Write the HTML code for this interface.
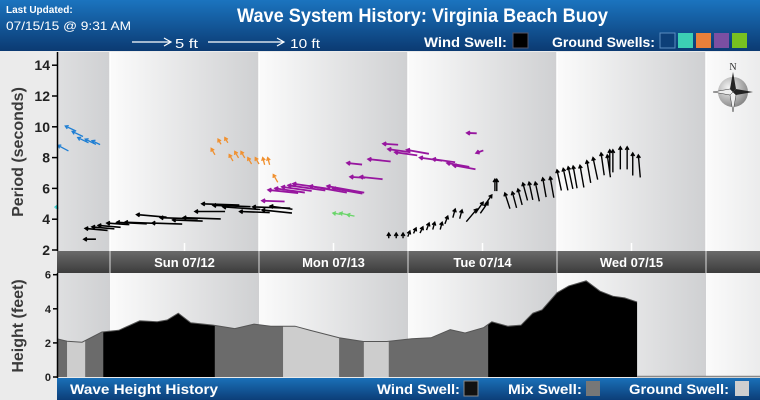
<!DOCTYPE html>
<html><head><meta charset="utf-8">
<style>
html,body{margin:0;padding:0;background:#fff;}
svg{display:block;font-family:"Liberation Sans",sans-serif;}
</style></head>
<body>
<svg id="chart" width="760" height="400" viewBox="0 0 760 400" xmlns="http://www.w3.org/2000/svg">
<defs>
<linearGradient id="hdr" x1="0" y1="0" x2="0" y2="1"><stop offset="0" stop-color="#1b74bf"/><stop offset="1" stop-color="#0b3a72"/></linearGradient>
<linearGradient id="ftr" x1="0" y1="0" x2="0" y2="1"><stop offset="0" stop-color="#1a70b8"/><stop offset="1" stop-color="#0c3e78"/></linearGradient>
<linearGradient id="datebar" x1="0" y1="0" x2="0" y2="1"><stop offset="0" stop-color="#6a6a6a"/><stop offset="1" stop-color="#3c3c3c"/></linearGradient>
<radialGradient id="cmp" cx="0.35" cy="0.35" r="0.8"><stop offset="0" stop-color="#f4f4f4"/><stop offset="1" stop-color="#777"/></radialGradient>
</defs>
<rect x="0" y="0" width="760" height="400" fill="#ebebeb"/>
<g id="header">
<rect x="0" y="0" width="760" height="51" fill="url(#hdr)"/>
<text x="6" y="13" fill="#fff" font-size="10" font-weight="bold">Last Updated:</text>
<text x="6" y="30" fill="#fff" font-size="12" textLength="125" lengthAdjust="spacingAndGlyphs">07/15/15 @  9:31 AM</text>
<text x="237" y="22" fill="#fff" font-size="19" font-weight="bold" textLength="371" lengthAdjust="spacingAndGlyphs">Wave System History: Virginia Beach Buoy</text>
<g><line x1="132" y1="42" x2="170" y2="42" stroke="#fff" stroke-width="1.2"/><polyline points="164,38 171,42 164,46" fill="none" stroke="#fff" stroke-width="1.2"/><text x="175" y="48" fill="#fff" font-size="13" textLength="23" lengthAdjust="spacingAndGlyphs">5 ft</text></g>
<g><line x1="208" y1="42" x2="283" y2="42" stroke="#fff" stroke-width="1.2"/><polyline points="277,38 284,42 277,46" fill="none" stroke="#fff" stroke-width="1.2"/><text x="290" y="48" fill="#fff" font-size="13" textLength="30" lengthAdjust="spacingAndGlyphs">10 ft</text></g>
<text x="424" y="47" fill="#fff" font-size="14" font-weight="bold" textLength="83" lengthAdjust="spacingAndGlyphs">Wind Swell:</text>
<rect x="513" y="33" width="15" height="15" fill="#000" stroke="#556"/>
<text x="552" y="47" fill="#fff" font-size="14" font-weight="bold" textLength="103" lengthAdjust="spacingAndGlyphs">Ground Swells:</text>
<rect x="660" y="33" width="15" height="15" fill="#0d3f78" stroke="#5a8cc0"/>
<rect x="678" y="33" width="15" height="15" fill="#3ccfb4"/>
<rect x="696" y="33" width="15" height="15" fill="#e9803a"/>
<rect x="714" y="33" width="15" height="15" fill="#7b4fa2"/>
<rect x="732" y="33" width="15" height="15" fill="#78c020"/>
</g>
<g id="bands"></g>
<g id="heightArea"></g>
<g id="arrows"></g>
<rect x="57" y="251" width="703" height="22" fill="url(#datebar)"/>
<g id="dates"></g>
<g>
<text x="733" y="70" font-family="Liberation Serif,serif" font-size="10" text-anchor="middle" fill="#333">N</text>
<circle cx="733" cy="92" r="15" fill="url(#cmp)"/>
<polygon points="733,72 736,89 733,92 730,89" fill="#222"/><polygon points="733,112 736,95 733,92 730,95" fill="#eee" stroke="#333" stroke-width="0.5"/>
<polygon points="713,92 730,89 733,92 730,95" fill="#eee" stroke="#333" stroke-width="0.5"/><polygon points="753,92 736,95 733,92 736,89" fill="#222"/>
</g>
<g id="axes"></g>
<rect x="57" y="378" width="703" height="22" fill="url(#ftr)"/>
<text x="70" y="394" fill="#fff" font-size="14" font-weight="bold" textLength="148" lengthAdjust="spacingAndGlyphs">Wave Height History</text>
<text x="377" y="394" fill="#fff" font-size="14" font-weight="bold" textLength="83" lengthAdjust="spacingAndGlyphs">Wind Swell:</text>
<rect x="464" y="381" width="14" height="15" fill="#111" stroke="#888"/>
<text x="508" y="394" fill="#fff" font-size="14" font-weight="bold" textLength="74" lengthAdjust="spacingAndGlyphs">Mix Swell:</text>
<rect x="586" y="381" width="14" height="15" fill="#777"/>
<text x="629" y="394" fill="#fff" font-size="14" font-weight="bold" textLength="100" lengthAdjust="spacingAndGlyphs">Ground Swell:</text>
<rect x="735" y="381" width="14" height="15" fill="#cfcfcf"/>
</svg>
<script>
// ---- data (hours from Sun 07/12 00:00) ----
const dayLabels = ["Sun 07/12","Mon 07/13","Tue 07/14","Wed 07/15"];
const periodTicks = [2,4,6,8,10,12,14];
const heightTicks = [0,2,4,6];

const heightTimes = [-8.5,-6.9,-4.5,-1.3,1.4,4.8,7.6,9.2,11.0,13.0,16.6,20.1,23.2,25.9,29.8,32.2,36.9,40.8,44.6,48.6,51.7,54.8,57.2,60.2,61.5,64.1,66.2,68.1,69.6,72.0,73.9,76.7,78.9,81.0,82.9,84.9];
const heightValues = [2.24,2.1,2.04,2.64,2.74,3.3,3.24,3.34,3.74,3.18,3.04,2.84,3.1,2.98,2.98,2.74,2.3,2.08,2.08,2.24,2.3,2.78,2.58,2.9,3.24,2.98,3.04,3.74,3.94,4.94,5.34,5.64,5.04,4.74,4.64,4.4];
const segStarts = [-8.5,-6.9,-4.0,-1.1,16.9,27.9,36.9,40.9,44.9,60.9];
const segEnds   = [-6.9,-4.0,-1.1,16.9,27.9,36.9,40.9,44.9,60.9,84.9];
const segTypes  = ["mix","ground","mix","wind","mix","ground","mix","ground","mix","wind"];

const windSunTimes = [-4.2,-4.0,-2.9,-1.9,-0.5,1.1,2.4,4.3,6.8,8.1,10.1,11.8,13.7,14.8,16.6,18.2,20.9,23.0,24.5,25.8];
const windSunPeriods = [2.7,3.4,3.5,3.6,3.75,3.8,3.8,4.3,3.75,4.1,3.95,4.1,4.5,5.0,4.9,4.8,4.5,4.8,4.6,4.85];
const windSunHeights = [1.6,3,3,3,3,4,4,4,4,5,4,5,4,5,5,5,4,5,4,3];
const windSunDirs = [270,275,275,275,274,273,272,275,272,272,272,272,270,272,272,274,272,272,276,278];

const windTueTimes = [44.9,46.1,47.2,48.3,49.3,50.4,51.4,52.3,53.5,54.4,55.6,56.7,59.1,60.1,60.9,61.5,62.0,62.3,63.6,64.8,65.7,66.5,67.5,68.5,69.7,70.9,72.0,73.0,73.8,74.6,75.7,76.8,77.8,79.1,80.1,80.5,81.0,82.2,83.3,84.2,85.1];
const windTuePeriods = [3.1,3.1,3.1,3.23,3.43,3.5,3.75,3.8,3.8,4.2,4.66,4.6,4.66,5.1,5.1,5.57,6.6,6.6,5.7,5.77,5.96,6.35,6.4,6.4,6.68,6.74,7.2,7.3,7.4,7.45,7.5,7.8,8.0,8.3,8.17,8.5,8.5,8.7,8.7,8.3,8.17];
const windTueHeights = [0.7,0.7,0.7,0.8,0.8,0.9,1,1,1,1.1,1.2,1.2,2.2,1.8,1.8,1.8,1.6,1.6,2.2,2.2,2.2,2.4,2.4,2.6,2.6,2.8,2.8,3,3,3,3,3,3,3,3,3,3,3,3,3,3];
const windTueDirs = [0,0,0,20,25,25,20,15,15,20,15,15,40,35,35,35,0,0,-18,-15,-15,-15,-12,-12,-10,-10,-12,-12,-12,-10,-10,-10,-12,-8,-8,0,0,0,0,0,-5];

const purpleTimes = [24.5,25.5,26.6,27.7,28.7,29.5,32.2,35.0,35.9,38.2,38.7,40.3,41.6,44.0,44.8,45.9,47.8,49.9,52.0,54.3,55.3,57.5,59.0];
const purplePeriods = [5.2,5.9,6.0,6.1,6.2,6.3,6.15,6.15,6.0,7.65,6.75,6.75,7.9,8.9,8.55,8.35,8.5,8.0,7.9,7.65,7.5,9.6,8.3];
const purpleHeights = [3,4,4,4,5,5,5,5,4,2,2,3,3,2,3,3,3,3,3,3,3,1.3,1];
const purpleDirs = [272,276,278,278,278,278,280,280,280,276,274,276,276,274,278,278,280,278,278,280,280,272,250];

const orangeTimes = [16.3,17.4,18.5,19.2,20.1,21.1,22.2,23.4,24.6,25.4,26.3];
const orangePeriods = [8.6,9.2,9.3,8.2,8.4,8.4,8.0,8.0,8.0,8.0,6.9];
const orangeHeights = [1,0.8,0.8,1,1,1,1,1,1,1,1.2];
const orangeDirs = [330,330,330,330,330,330,330,330,345,345,330];

const blueTimes = [-8.4,-7.2,-6.1,-5.2,-4.0,-2.9];
const bluePeriods = [8.8,10.05,9.7,9.3,9.2,9.1];
const blueHeights = [1.6,1.6,1.6,1.6,1.6,1.2];
const blueDirs = [298,295,295,296,296,296];

const tealTimes = [-8.5];
const tealPeriods = [4.9];
const tealHeights = [0.5];
const tealDirs = [20];

const greenTimes = [35.9,37.0,38.2];
const greenPeriods = [4.4,4.4,4.3];
const greenHeights = [1,1,1];
const greenDirs = [280,282,282];

// ---- scales ----
const NS = "http://www.w3.org/2000/svg";
const DAY0 = 110, DAYW = 149;
function xOf(t){ return DAY0 + t * DAYW / 24; }
function yP(p){ return 250 - (p - 2) * 15.4; }
function yH(h){ return 377 - h * 17.05; }
const FT = 7.5;
function mk(tag, attrs, parent){
  const e = document.createElementNS(NS, tag);
  for (const k in attrs) e.setAttribute(k, attrs[k]);
  parent.appendChild(e);
  return e;
}

// ---- background bands ----
const bands = document.getElementById("bands");
const defs = document.querySelector("defs");
for (let d = -1; d <= 4; d++) {
  const x0 = DAY0 + d * DAYW;
  const g = mk("linearGradient", {id:"bg"+(d+1), gradientUnits:"userSpaceOnUse", x1:x0, y1:0, x2:x0+DAYW, y2:0}, defs);
  mk("stop", {offset:0, "stop-color":"#fbfbfb"}, g);
  mk("stop", {offset:1, "stop-color":"#cfd0d2"}, g);
  const L = Math.max(x0, 57), R = Math.min(x0 + DAYW, 760);
  const r1 = mk("rect", {x:L, y:52, width:R-L, height:199, fill:"url(#bg"+(d+1)+")"}, bands);
  
  
  const r2 = mk("rect", {x:L, y:273, width:R-L, height:104, fill:"url(#bg"+(d+1)+")"}, bands);
  
  
  if (x0 > 57) {
    mk("line", {x1:x0, y1:52, x2:x0, y2:251, stroke:"#fff", "stroke-width":1.5}, bands);
    const mid = x0 + DAYW/2;
    mk("line", {x1:mid, y1:243, x2:mid, y2:251, stroke:"#fff", "stroke-width":1.5}, bands);
  }
}

// ---- height area ----
const area = document.getElementById("heightArea");
function interpH(t){
  for (let i = 0; i < heightTimes.length - 1; i++) {
    if (t >= heightTimes[i] && t <= heightTimes[i+1]) {
      const f = (t - heightTimes[i]) / (heightTimes[i+1] - heightTimes[i]);
      return heightValues[i] + f * (heightValues[i+1] - heightValues[i]);
    }
  }
  return heightValues[heightValues.length-1];
}
const segColor = {wind:"#000", mix:"#6b6b6b", ground:"#cdcdcd"};
for (let s = 0; s < segTypes.length; s++) {
  const a = segStarts[s], b = segEnds[s];
  let pts = [[xOf(a), yH(interpH(a))]];
  for (let i = 0; i < heightTimes.length; i++) if (heightTimes[i] > a && heightTimes[i] < b) pts.push([xOf(heightTimes[i]), yH(heightValues[i])]);
  pts.push([xOf(b), yH(interpH(b))]);
  const poly = pts.map(p => p.join(",")).join(" ") + " " + xOf(b) + ",377 " + xOf(a) + ",377";
  const seg = mk("polygon", {points: poly, fill: segColor[segTypes[s]]}, area);
  
  
}
const outline = mk("polyline", {points: heightTimes.map((t,i) => xOf(t)+","+yH(heightValues[i])).join(" "), fill:"none", stroke:"#555", "stroke-width":1}, area);


const base = mk("line", {x1: xOf(84.9), y1:376.5, x2:760, y2:376.5, stroke:"#888", "stroke-width":1.5}, area);



// ---- arrows ----
const arrowsG = document.getElementById("arrows");
function drawSeries(name, times, periods, heights, dirs, color, w){
  const g = mk("g", {}, arrowsG);
  
  
  for (let i = 0; i < times.length; i++) {
    const tx = xOf(times[i]), ty = yP(periods[i]);
    const r = dirs[i] * Math.PI / 180;
    const dx = Math.sin(r), dy = -Math.cos(r);
    const len = heights[i] * FT;
    const hx = tx - dx*len, hy = ty - dy*len;
    const h = 3.5;
    const a1 = r + Math.PI - 0.55, a2 = r + Math.PI + 0.55;
    const p = mk("path", {d:"M"+hx+","+hy+"L"+tx+","+ty+"M"+(tx+Math.sin(a1)*h)+","+(ty-Math.cos(a1)*h)+"L"+tx+","+ty+"L"+(tx+Math.sin(a2)*h)+","+(ty-Math.cos(a2)*h), fill:"none", stroke:color, "stroke-width":w}, g);
    
    
  }
}
drawSeries("wind-swell-sun", windSunTimes, windSunPeriods, windSunHeights, windSunDirs, "#000", 1.6);
drawSeries("wind-swell-tue", windTueTimes, windTuePeriods, windTueHeights, windTueDirs, "#000", 1.4);
drawSeries("purple-swell", purpleTimes, purplePeriods, purpleHeights, purpleDirs, "#97169f", 1.8);
drawSeries("orange-swell", orangeTimes, orangePeriods, orangeHeights, orangeDirs, "#f0902f", 1.3);
drawSeries("blue-swell", blueTimes, bluePeriods, blueHeights, blueDirs, "#1f7fd4", 1.3);
drawSeries("teal-swell", tealTimes, tealPeriods, tealHeights, tealDirs, "#34d0d0", 1.3);
drawSeries("green-swell", greenTimes, greenPeriods, greenHeights, greenDirs, "#6ad56a", 1.3);

// ---- date labels ----
const dates = document.getElementById("dates");
for (let d = 0; d <= 4; d++) {
  const x0 = DAY0 + d * DAYW;
  mk("line", {x1:x0, y1:251, x2:x0, y2:273, stroke:"#ddd", "stroke-width":1}, dates);
  if (d < dayLabels.length) {
    const t = mk("text", {x:x0 + DAYW/2, y:267, "text-anchor":"middle", fill:"#fff", "font-size":13, "font-weight":"bold"}, dates);
    t.textContent = dayLabels[d];
    
    
  }
}

// ---- axes ----
const axes = document.getElementById("axes");
mk("line", {x1:57.5, y1:52, x2:57.5, y2:251, stroke:"#000", "stroke-width":1.5}, axes);
mk("line", {x1:57.5, y1:273, x2:57.5, y2:378, stroke:"#000", "stroke-width":1.5}, axes);
periodTicks.forEach(v => {
  const y = yP(v);
  mk("line", {x1:52, y1:y, x2:57, y2:y, stroke:"#000", "stroke-width":1.5}, axes);
  const t = mk("text", {x:50, y:y+5, "text-anchor":"end", "font-size":14, "font-weight":"bold", fill:"#222"}, axes);
  t.textContent = v;
  
  
});
heightTicks.forEach(v => {
  const y = yH(v);
  mk("line", {x1:53, y1:y, x2:57, y2:y, stroke:"#000", "stroke-width":1.5}, axes);
  const t = mk("text", {x:51, y:y+4, "text-anchor":"end", "font-size":11, "font-weight":"bold", fill:"#222"}, axes);
  t.textContent = v;
  
  
});
const yt1 = mk("text", {x:0, y:0, transform:"translate(23,152) rotate(-90)", "text-anchor":"middle", "font-size":16, "font-weight":"bold", fill:"#3a3a3a"}, axes);
yt1.textContent = "Period (seconds)";


const yt2 = mk("text", {x:0, y:0, transform:"translate(23,326) rotate(-90)", "text-anchor":"middle", "font-size":16, "font-weight":"bold", fill:"#3a3a3a"}, axes);
yt2.textContent = "Height (feet)";


</script>
</body></html>
